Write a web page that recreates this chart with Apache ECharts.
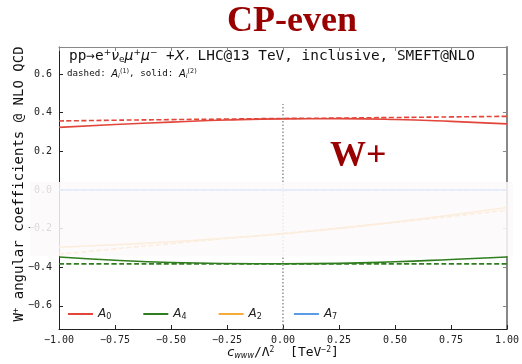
<!DOCTYPE html>
<html>
<head>
<meta charset="utf-8">
<script src="https://cdn.jsdelivr.net/npm/echarts@6/dist/echarts.min.js"></script>
<style>
  html, body { margin: 0; padding: 0; background: #fff; }
  #chart { width: 522px; height: 364px; }
</style>
</head>
<body>
<div id="chart"></div>
<script>
// c_www / Lambda^2 sample points
var cwww = [-1.0, -0.75, -0.5, -0.25, 0.0, 0.25, 0.5, 0.75, 1.0]

// dashed = A_i^(1), solid = A_i^(2)
var a0Dashed = [0.357, 0.361, 0.364, 0.367, 0.370, 0.372, 0.375, 0.378, 0.381]
var a0Solid = [0.324, 0.339, 0.351, 0.362, 0.368, 0.369, 0.365, 0.355, 0.342]
var a4Dashed = [-0.383, -0.383, -0.383, -0.383, -0.383, -0.383, -0.383, -0.383, -0.383]
var a4Solid = [-0.347, -0.364, -0.376, -0.381, -0.382, -0.380, -0.372, -0.360, -0.347]
var a2Dashed = [-0.333, -0.305, -0.278, -0.251, -0.225, -0.197, -0.168, -0.137, -0.105]
var a2Solid = [-0.297, -0.284, -0.268, -0.249, -0.227, -0.199, -0.166, -0.130, -0.091]
var a7Dashed = [0, 0, 0, 0, 0, 0, 0, 0, 0]
var a7Solid = [0, 0, 0, 0, 0, 0, 0, 0, 0]

var yTicks = [-0.6, -0.4, -0.2, 0.0, 0.2, 0.4, 0.6]
var smLine = [[0, -0.72], [0, 0.445]]  // dotted SM reference line

var colors = { A0: '#e2453a', A4: '#2f7d1f', A2: '#f5ac3c', A7: '#5a9ae6' }
var mono = '"DejaVu Sans Mono", monospace'

function pairs(ys) {
	return ys.map(function (y, i) { return [cwww[i], y] })
}
function minus(s) { return s.replace('-', '\u2212') }

function curve(name, ys, dashed) {
	return {
		name: name,
		type: 'line',
		data: pairs(ys),
		smooth: true,
		symbol: 'none',
		lineStyle: {
			color: colors[name],
			width: 1.6,
			type: dashed ? [5, 2.5] : 'solid'
		},
		itemStyle: { color: colors[name] },
		z: 3
	}
}

var chart = echarts.init(document.getElementById('chart'))
chart.setOption({
	animation: false,
	grid: { left: 59, right: 12, top: 47, bottom: 35 },
	xAxis: [{
		type: 'value',
		min: -1,
		max: 1,
		interval: 0.25,
		splitLine: { show: false },
		axisLine: { onZero: false, lineStyle: { color: '#222', width: 1 } },
		axisTick: { inside: true, length: 4, lineStyle: { color: '#222' } },
		axisLabel: {
			fontFamily: mono, fontSize: 10, color: '#222', margin: 6,
			formatter: function (v) { return minus(v.toFixed(2)) }
		}
	}, {
		type: 'value',
		position: 'top',
		min: -1,
		max: 1,
		interval: 0.25,
		splitLine: { show: false },
		axisLine: { show: true, onZero: false, lineStyle: { color: '#888', width: 1 } },
		axisTick: { inside: true, length: 4, lineStyle: { color: '#888' } },
		axisLabel: { show: false }
	}],
	yAxis: [{
		type: 'value',
		min: -0.72,
		max: 0.74,
		splitLine: { show: false },
		axisLine: { show: true, onZero: false, lineStyle: { color: '#222', width: 1 } },
		axisTick: { inside: true, length: 4, customValues: yTicks, lineStyle: { color: '#222' } },
		axisLabel: {
			fontFamily: mono, fontSize: 10, color: '#222', margin: 7,
			customValues: yTicks,
			formatter: function (v) { return minus((Math.round(v * 10) / 10).toFixed(1)) }
		}
	}, {
		type: 'value',
		position: 'right',
		min: -0.72,
		max: 0.74,
		splitLine: { show: false },
		axisLine: { show: true, onZero: false, lineStyle: { color: '#888', width: 2 } },
		axisTick: { inside: true, length: 4, customValues: yTicks, lineStyle: { color: '#888' } },
		axisLabel: { show: false }
	}],
	legend: {
		data: ['A0', 'A4', 'A2', 'A7'],
		left: 63,
		top: 303,
		itemWidth: 25,
		itemHeight: 2,
		itemGap: 32,
		icon: 'rect',
		formatter: function (name) {
			return '{a|A}{s|' + name.slice(1) + '}'
		},
		textStyle: {
			rich: {
				a: { fontFamily: 'DejaVu Sans', fontStyle: 'italic', fontSize: 12, color: '#222' },
				s: { fontFamily: 'DejaVu Sans', fontSize: 8, color: '#222', padding: [5, 0, 0, 0] }
			}
		}
	},
	series: [
		curve('A0', a0Dashed, true),
		curve('A0', a0Solid, false),
		curve('A4', a4Dashed, true),
		curve('A4', a4Solid, false),
		curve('A2', a2Dashed, true),
		curve('A2', a2Solid, false),
		curve('A7', a7Dashed, true),
		curve('A7', a7Solid, false),
		{
			type: 'line',
			data: smLine,
			symbol: 'none',
			lineStyle: { color: '#777', width: 1.2, type: [1.5, 2] },
			z: 4
		}
	],
	graphic: [
		{
			type: 'text', x: 292, y: 22,
			style: {
				text: 'CP-even', font: 'bold 36px "Liberation Serif", serif', fill: '#990000',
				align: 'center', verticalAlign: 'middle'
			}
		},
		{
			type: 'text', x: 330, y: 139,
			style: { text: 'W+', font: 'bold 36px "Liberation Serif", serif', fill: '#990000' }
		},
		{
			type: 'text', x: 69, y: 48,
			style: {
				text: '{m|pp\u2192e}{p|+}{i|\u03bd}{b|e}{i|\u03bc}{p|+}{i|\u03bc}{p|\u2212}{m| +}{i|X}{c|, }{m|LHC@13 TeV, inclusive, SMEFT@NLO}',
				rich: {
					m: { fontFamily: mono, fontSize: 14.4, fill: '#111' },
					c: { fontFamily: mono, fontSize: 11, fill: '#111' },
					i: { fontFamily: 'DejaVu Sans', fontStyle: 'italic', fontSize: 14, fill: '#111' },
					p: { fontFamily: 'DejaVu Sans', fontSize: 9, fill: '#111', padding: [0, 0, 8, 0] },
					b: { fontFamily: 'DejaVu Sans', fontSize: 9, fill: '#111', padding: [6, 0, 0, 0] }
				}
			}
		},
		{
			type: 'text', x: 67, y: 68,
			style: {
				text: '{m|dashed: }{i|A}{b|i}{p|(1)}{m|, solid: }{i|A}{b|i}{p|(2)}',
				rich: {
					m: { fontFamily: mono, fontSize: 9.2, fill: '#111' },
					i: { fontFamily: 'DejaVu Sans', fontStyle: 'italic', fontSize: 10, fill: '#111' },
					p: { fontFamily: 'DejaVu Sans', fontSize: 6.5, fill: '#111', padding: [0, 0, 5, 0] },
					b: { fontFamily: 'DejaVu Sans', fontStyle: 'italic', fontSize: 6.5, fill: '#111', padding: [4, 0, 0, 0] }
				}
			}
		},
		{
			type: 'text', x: 19, y: 184, rotation: Math.PI / 2,
			style: {
				text: '{m|W}{p|+}{m| angular coefficients @ NLO QCD}',
				align: 'center', verticalAlign: 'middle',
				rich: {
					m: { fontFamily: mono, fontSize: 14, fill: '#111' },
					p: { fontFamily: mono, fontSize: 9, fill: '#111', padding: [0, 0, 6, 0] }
				}
			}
		},
		{
			type: 'text', x: 283, y: 353,
			style: {
				text: '{i|c}{b|www}{m|/\u039b}{p|2}{m|  [TeV}{p|\u22122}{m|]}',
				align: 'center', verticalAlign: 'middle',
				rich: {
					i: { fontFamily: 'DejaVu Sans', fontStyle: 'italic', fontSize: 13, fill: '#111' },
					b: { fontFamily: 'DejaVu Sans', fontStyle: 'italic', fontSize: 8, fill: '#111', padding: [6, 0, 0, 0] },
					m: { fontFamily: mono, fontSize: 13, fill: '#111' },
					p: { fontFamily: mono, fontSize: 8, fill: '#111', padding: [0, 0, 7, 0] }
				}
			}
		},
		{
			// washed-out band over the middle of the panel
			type: 'rect', z: 100,
			shape: { x: 30, y: 182, width: 483, height: 74 },
			style: { fill: 'rgba(253, 249, 250, 0.85)' }
		}
	]
})
</script>
</body>
</html>
